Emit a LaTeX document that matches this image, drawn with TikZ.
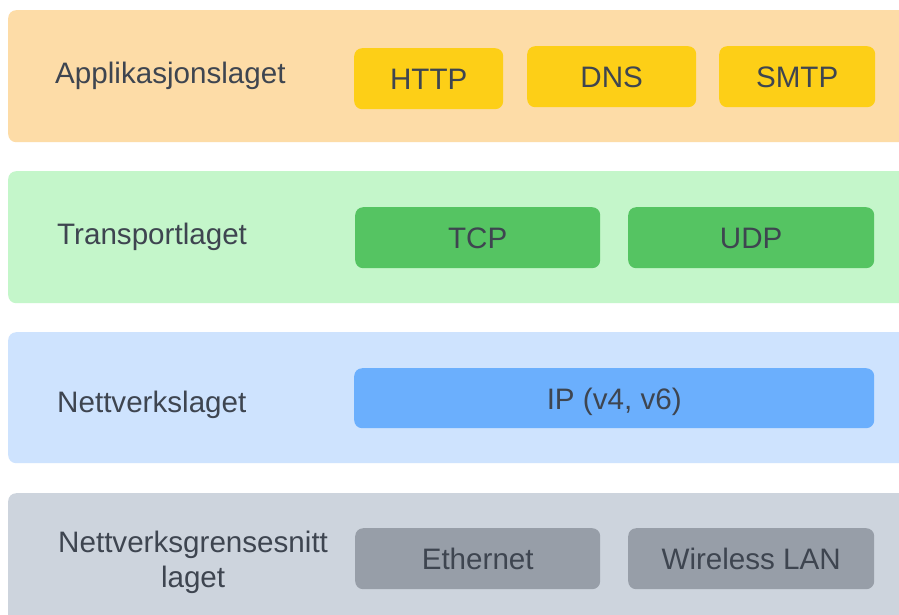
\documentclass[tikz,border=0pt]{standalone}
\usepackage{fontspec}
\setmainfont{Liberation Sans}
\definecolor{txt}{HTML}{3E4550}
\definecolor{appband}{HTML}{FDDCA7}
\definecolor{appbox}{HTML}{FDCF17}
\definecolor{trband}{HTML}{C4F6CA}
\definecolor{trbox}{HTML}{55C462}
\definecolor{netband}{HTML}{CEE3FE}
\definecolor{netbox}{HTML}{6BAFFD}
\definecolor{linkband}{HTML}{CDD4DD}
\definecolor{linkbox}{HTML}{979EA8}
\tikzset{
  band/.style={rectangle, rounded corners=8pt, anchor=north west, inner sep=0pt, minimum width=900pt},
  proto/.style={rectangle, rounded corners=8pt, anchor=north west, inner sep=0pt, minimum height=61pt},
  lbl/.style={anchor=base west, inner sep=0pt, text=txt, font=\fontsize{29.6}{35}\selectfont},
  ptxt/.style={anchor=base, inner sep=0pt, text=txt, font=\fontsize{29.6}{35}\selectfont}
}
\begin{document}
\begin{tikzpicture}[x=1pt,y=-1pt]
\useasboundingbox (0,0) rectangle (899,614);
\clip (0,0) rectangle (899,614);
\fill[white] (0,0) rectangle (899,614);

% layer bands
\node[band, fill=appband, minimum height=132pt] (app) at (8,10) {};
\node[band, fill=trband, minimum height=132pt] (tr) at (8,171) {};
\node[band, fill=netband, minimum height=131pt] (net) at (8,332) {};
\node[band, fill=linkband, minimum height=140pt] (link) at (8,493) {};

% layer names
\node[lbl] (appl) at (55,83) {Applikasjonslaget};
\node[lbl] (trl) at (57,244) {Transportlaget};
\node[lbl] (netl) at (57,412) {Nettverkslaget};
\node[lbl] (linkl) at (58,552) {Nettverksgrensesnitt};
\node[ptxt] (linkl2) at ([yshift=-35pt]linkl.base) {laget};

% protocol boxes
\node[proto, fill=appbox, minimum width=149pt] (http) at (354,48) {};
\node[proto, fill=appbox, minimum width=169pt] (dns) at (527,46) {};
\node[proto, fill=appbox, minimum width=156pt] (smtp) at (719,46) {};
\node[proto, fill=trbox, minimum width=245pt] (tcp) at (355,207) {};
\node[proto, fill=trbox, minimum width=246pt] (udp) at (628,207) {};
\node[proto, fill=netbox, minimum width=520pt, minimum height=60pt] (ip) at (354,368) {};
\node[proto, fill=linkbox, minimum width=245pt] (eth) at (355,528) {};
\node[proto, fill=linkbox, minimum width=246pt] (wlan) at (628,528) {};

% protocol names
\node[ptxt] at ([yshift=-10.6pt]http.center) {HTTP};
\node[ptxt] at ([yshift=-10.6pt]dns.center) {DNS};
\node[ptxt] at ([yshift=-10.6pt]smtp.center) {SMTP};
\node[ptxt] at ([yshift=-10.6pt]tcp.center) {TCP};
\node[ptxt] at ([yshift=-10.6pt]udp.center) {UDP};
\node[ptxt] at ([yshift=-11.5pt]ip.center) {IP (v4, v6)};
\node[ptxt] at ([yshift=-10.6pt]eth.center) {Ethernet};
\node[ptxt] at ([yshift=-10.6pt]wlan.center) {Wireless LAN};
\end{tikzpicture}
\end{document}
